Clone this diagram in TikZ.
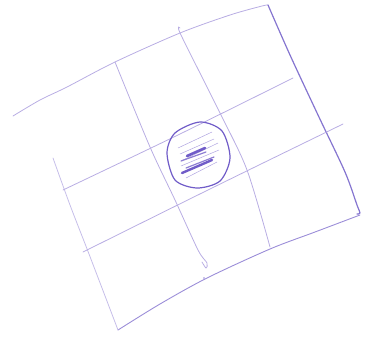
\documentclass[tikz,border=0pt]{standalone}
\usetikzlibrary{positioning}
\definecolor{ink}{RGB}{112,92,200}
\tikzset{
    faint/.style={ink!50, line width=0.8pt, line cap=round, line join=round},
    pen/.style={ink!85, line width=1.2pt, line cap=round, line join=round}
}
\begin{document}
\begin{tikzpicture}[x=1pt, y=-1pt]
    \useasboundingbox (0,0) rectangle (374,338);

    % Outer frame (hand drawn)
    \draw[faint] plot[smooth] coordinates {(13,116) (40,100) (67,87) (115,62) (180,33) (230,15) (262,6) (268,5)};
    \draw[pen] plot[smooth] coordinates {(268,5) (290,55) (318,115) (345,172) (357,205) (360,213) (357,214)};
    \draw[ink!70, line width=0.9pt, line cap=round] plot[smooth] coordinates {(360,215) (315,232) (270,249) (207,278) (160,304) (118,330)};
    \draw[faint, ink!40] plot[smooth] coordinates {(53,158) (70,205) (89,254) (118,330)};

    % Inner lines
    \draw[faint] plot[smooth] coordinates {(115,62) (150,147) (175,200) (198,250) (207,263) (206,268) (202,262)};
    \draw[faint] plot[smooth] coordinates {(180,28) (181,35) (220,113) (247,170) (270,247)};
    \draw[faint] plot[smooth] coordinates {(63,190) (180,134) (293,78)};
    \draw[faint] plot[smooth] coordinates {(83,252) (210,189) (343,124)};

    % Circled cell
    \draw[ink, line width=1.2pt] plot[smooth cycle] coordinates {(167,153) (175,133) (200,122) (222,131) (230,158) (220,181) (197,188) (175,180)};

    % Scribbles inside
    \draw[ink!55, line width=0.5pt] (178,148) -- (212,132);
    \draw[ink!55, line width=0.5pt] (183,160) -- (218,143);
    \draw[ink!55, line width=0.5pt] (181,166) -- (219,150);
    \draw[ink!55, line width=0.5pt] (186,178) -- (217,162);
    \draw[ink!55, line width=0.5pt] (180,154) -- (214,139);
    \draw[ink, line width=2.6pt, line cap=round] (187,156) -- (205,148);
    \draw[ink, line width=2.4pt, line cap=round] (182,173) -- (212,160);
    \draw[ink!80, line width=1.2pt, line cap=round] (181,161) -- (206,152);
    \draw[ink!80, line width=1.2pt, line cap=round] (186,168) -- (214,157);

    % Stray dot
    \fill[ink!70] (204,278) circle (0.8pt);
\end{tikzpicture}
\end{document}
